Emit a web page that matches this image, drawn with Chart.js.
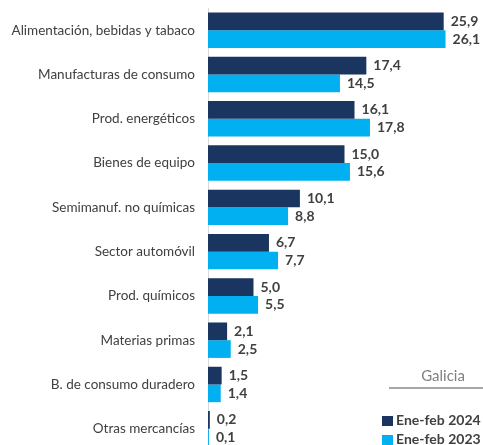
<!DOCTYPE html>
<html>
<head>
<meta charset="utf-8">
<script src="https://cdn.jsdelivr.net/npm/chart.js@4"></script>
<style>
  html, body { margin: 0; padding: 0; background: #fff; overflow: hidden; }
  #wrap { position: relative; width: 483px; height: 445px; overflow: hidden; }
  #box { position: absolute; left: 0; top: -13px; width: 483px; height: 485px; }
  .galicia { position: absolute; left: 389px; width: 94px; top: 366px; text-align: center;
    font: 15px Lato, sans-serif; color: #808080; border-bottom: 2px solid #a6a6a6; padding-bottom: 3px; padding-left: 14px; box-sizing: border-box; }
  .leg { position: absolute; left: 382px; font: bold 14px Lato, sans-serif; color: #404040; white-space: nowrap; }
  .leg span { display: inline-block; width: 11px; height: 10px; margin-right: 3px; vertical-align: -1px; }
</style>
</head>
<body>
<div id="wrap">
  <div id="box"><canvas id="grafico"></canvas></div>
  <div class="galicia">Galicia</div>
  <div class="leg" style="top:411px"><span style="background:#1a3560"></span>Ene-feb 2024</div>
  <div class="leg" style="top:430px"><span style="background:#00b0f0"></span>Ene-feb 2023</div>
</div>
<script>
const sectores = ['Alimentación, bebidas y tabaco', 'Manufacturas de consumo', 'Prod. energéticos',
  'Bienes de equipo', 'Semimanuf. no químicas', 'Sector automóvil', 'Prod. químicos',
  'Materias primas', 'B. de consumo duradero', 'Otras mercancías'];
const ene2024 = [25.9, 17.4, 16.1, 15.0, 10.1, 6.7, 5.0, 2.1, 1.5, 0.2];
const ene2023 = [26.1, 14.5, 17.8, 15.6, 8.8, 7.7, 5.5, 2.5, 1.4, 0.1];

const etiquetas = {
  id: 'etiquetas',
  afterDatasetsDraw(chart) {
    const ctx = chart.ctx;
    ctx.save();
    ctx.font = 'bold 14px Lato, sans-serif';
    ctx.fillStyle = '#404040';
    ctx.textBaseline = 'middle';
    chart.data.datasets.forEach((ds, i) => {
      chart.getDatasetMeta(i).data.forEach((bar, j) => {
        ctx.fillText(ds.data[j].toFixed(1).replace('.', ','), bar.x + 7, bar.y);
      });
    });
    ctx.restore();
  }
};

new Chart(document.getElementById('grafico'), {
  type: 'bar',
  data: {
    labels: sectores,
    datasets: [
      { label: 'Ene-feb 2024', data: ene2024, backgroundColor: '#1a3560' },
      { label: 'Ene-feb 2023', data: ene2023, backgroundColor: '#00b0f0' }
    ]
  },
  options: {
    indexAxis: 'y',
    responsive: true,
    maintainAspectRatio: false,
    animation: false,
    layout: { padding: { top: 8, right: 2, left: 0, bottom: 6 } },
    categoryPercentage: 0.8,
    barPercentage: 1.0,
    plugins: { legend: { display: false }, tooltip: { enabled: false } },
    scales: {
      x: { display: false, min: 0, max: 30 },
      y: {
        afterFit(s) { s.width = 208; },
        grid: { display: false, drawTicks: false },
        border: { display: true, color: '#d9d9d9', width: 1 },
        ticks: { color: '#404040', padding: 13, font: { family: 'Lato', size: 13.5 } }
      }
    }
  },
  plugins: [etiquetas]
});
</script>
</body>
</html>
